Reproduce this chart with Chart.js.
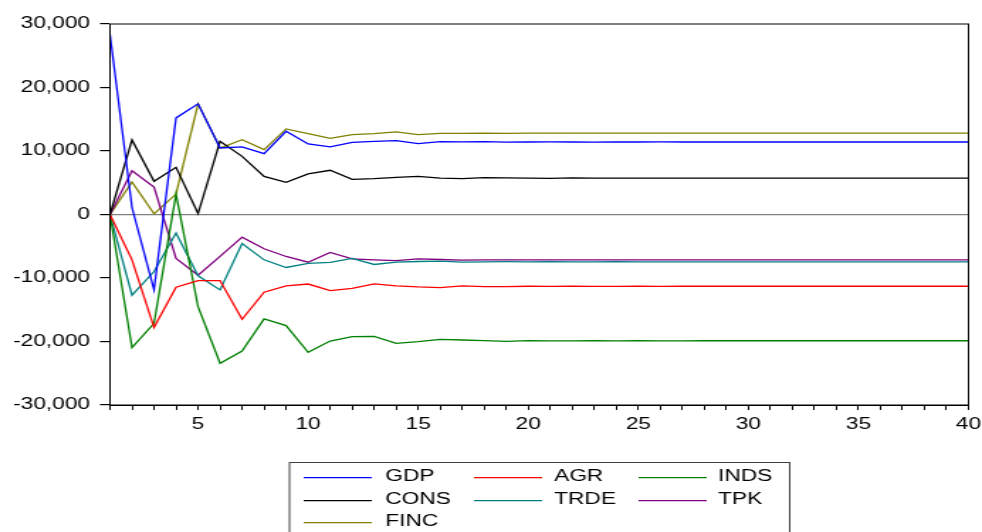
<!DOCTYPE html>
<html>
<head>
<meta charset="utf-8">
<script src="https://cdn.jsdelivr.net/npm/chart.js@4/dist/chart.umd.min.js"></script>
<style>
  html, body { margin: 0; padding: 0; background: #fff; overflow: hidden; }
  #wrap { width: 692px; height: 532px; transform: scaleX(1.41907); transform-origin: 0 0; }
</style>
</head>
<body>
<div id="wrap"><canvas id="c" width="692" height="532"></canvas></div>
<script>
// Response periods
const periods = Array.from({ length: 40 }, (_, i) => String(i + 1));

// Responses by sector
const gdp  = [28350, 1100, -11870, 15210, 17420, 10480, 10640, 9580, 13100, 11110,
              10640, 11370, 11530, 11630, 11160, 11470, 11440, 11470, 11400, 11420,
              11440, 11420, 11410, 11420, 11420, 11430, 11420, 11420, 11420, 11420,
              11420, 11420, 11420, 11420, 11420, 11420, 11420, 11420, 11420, 11420];
const agr  = [0, -7140, -17810, -11450, -10400, -10400, -16500, -12230, -11240, -10950,
              -12000, -11630, -10920, -11240, -11400, -11500, -11240, -11350, -11370, -11300,
              -11330, -11300, -11320, -11310, -11300, -11310, -11300, -11300, -11300, -11300,
              -11300, -11300, -11300, -11300, -11300, -11300, -11300, -11300, -11300, -11300];
const inds = [0, -20970, -17130, 3220, -14500, -23430, -21490, -16440, -17490, -21700,
              -19930, -19230, -19180, -20280, -20020, -19650, -19760, -19860, -19970, -19860,
              -19900, -19900, -19880, -19890, -19880, -19890, -19890, -19880, -19880, -19880,
              -19880, -19880, -19880, -19880, -19880, -19880, -19880, -19880, -19880, -19880];
const cons = [0, 11740, 5220, 7430, 150, 11530, 9160, 6000, 5060, 6400,
              6960, 5530, 5640, 5850, 6000, 5740, 5640, 5800, 5760, 5740,
              5700, 5760, 5740, 5740, 5730, 5740, 5740, 5740, 5740, 5740,
              5740, 5740, 5740, 5740, 5740, 5740, 5740, 5740, 5740, 5740];
const trde = [0, -12710, -8980, -2930, -9660, -11870, -4560, -7140, -8340, -7700,
              -7550, -6900, -7870, -7510, -7400, -7350, -7500, -7450, -7430, -7450,
              -7440, -7450, -7450, -7440, -7450, -7450, -7450, -7450, -7450, -7450,
              -7450, -7450, -7450, -7450, -7450, -7450, -7450, -7450, -7450, -7450];
const tpk  = [0, 6900, 4320, -6920, -9550, -6600, -3560, -5400, -6610, -7510,
              -5980, -7000, -7140, -7250, -6980, -7090, -7200, -7150, -7160, -7140,
              -7150, -7140, -7150, -7150, -7140, -7150, -7150, -7150, -7150, -7150,
              -7150, -7150, -7150, -7150, -7150, -7150, -7150, -7150, -7150, -7150];
const finc = [0, 5110, 100, 3220, 17420, 10480, 11790, 10210, 13470, 12740,
              12000, 12580, 12740, 13000, 12580, 12790, 12790, 12820, 12780, 12800,
              12810, 12800, 12800, 12810, 12800, 12800, 12800, 12800, 12800, 12800,
              12800, 12800, 12800, 12800, 12800, 12800, 12800, 12800, 12800, 12800];

const seriesNames  = ['GDP', 'AGR', 'INDS', 'CONS', 'TRDE', 'TPK', 'FINC'];
const seriesValues = [gdp, agr, inds, cons, trde, tpk, finc];
const seriesColors = ['#0000ff', '#ff0000', '#008000', '#000000', '#008080', '#800080', '#808000'];

const yTicks = [-30000, -20000, -10000, 0, 10000, 20000, 30000];

const FONT = 'Arial, "Liberation Sans", sans-serif';

// Frame around the plotting area
const frame = {
  id: 'frame',
  afterDraw(chart) {
    const { ctx, chartArea: a } = chart;
    ctx.save();
    ctx.strokeStyle = '#000';
    ctx.lineWidth = 1;
    ctx.strokeRect(a.left, a.top, a.right - a.left, a.bottom - a.top);
    ctx.restore();
  }
};

// Boxed three-column key below the axis
const keyBox = {
  id: 'keyBox',
  afterDraw(chart) {
    const { ctx } = chart;
    const sampleX = [214, 334, 450];
    const textX = [271.5, 390.5, 506];
    const rowY = [477.7, 500.7, 522.7];
    ctx.save();
    ctx.strokeStyle = '#404040';
    ctx.lineWidth = 1;
    ctx.strokeRect(204, 462.5, 352.5, 80);
    ctx.font = '16px ' + FONT;
    ctx.textBaseline = 'alphabetic';
    ctx.textAlign = 'left';
    chart.data.datasets.forEach((ds, i) => {
      const col = i % 3, row = Math.floor(i / 3);
      const y = rowY[row];
      ctx.strokeStyle = ds.borderColor;
      ctx.lineWidth = 1.2;
      ctx.beginPath();
      ctx.moveTo(sampleX[col], y);
      ctx.lineTo(sampleX[col] + 48, y);
      ctx.stroke();
      ctx.fillStyle = '#000';
      ctx.fillText(ds.label, textX[col], y + 3);
    });
    ctx.restore();
  }
};

new Chart(document.getElementById('c'), {
  type: 'line',
  data: {
    labels: periods,
    datasets: seriesNames.map((name, i) => ({
      label: name,
      data: seriesValues[i],
      borderColor: seriesColors[i],
      backgroundColor: seriesColors[i],
      borderWidth: 1.3,
      pointRadius: 0,
      tension: 0,
      fill: false
    }))
  },
  options: {
    responsive: false,
    animation: false,
    devicePixelRatio: 1,
    layout: { padding: { left: 0, top: 24, right: 9.5, bottom: 87 } },
    plugins: { legend: { display: false }, tooltip: { enabled: false } },
    scales: {
      x: {
        type: 'category',
        offset: false,
        afterFit(scale) {
          scale.height = 40;
          scale.paddingLeft = 0;
          scale.paddingRight = 0;
        },
        border: { display: true, color: '#000', width: 1 },
        grid: { drawOnChartArea: false, tickLength: 5, tickColor: '#000' },
        ticks: {
          autoSkip: false,
          maxRotation: 0,
          padding: 5,
          color: '#000',
          font: { family: FONT, size: 16 },
          callback(val, idx) { return (idx + 1) % 5 === 0 ? periods[idx] : ''; }
        }
      },
      y: {
        min: yTicks[0],
        max: yTicks[yTicks.length - 1],
        afterFit(scale) {
          scale.width = 77.5;
          scale.paddingTop = 0;
          scale.paddingBottom = 0;
        },
        afterBuildTicks(scale) { scale.ticks = yTicks.map(v => ({ value: v })); },
        border: { display: true, color: '#000', width: 1 },
        grid: {
          drawOnChartArea: true,
          tickLength: 7,
          tickColor: '#000',
          color: c => (c.tick && c.tick.value === 0 ? '#808080' : 'rgba(0,0,0,0)'),
          lineWidth: 1.2
        },
        ticks: {
          padding: 7,
          color: '#000',
          font: { family: FONT, size: 16 },
          callback: v => v.toLocaleString('en-US')
        }
      }
    }
  },
  plugins: [frame, keyBox]
});
</script>
</body>
</html>
